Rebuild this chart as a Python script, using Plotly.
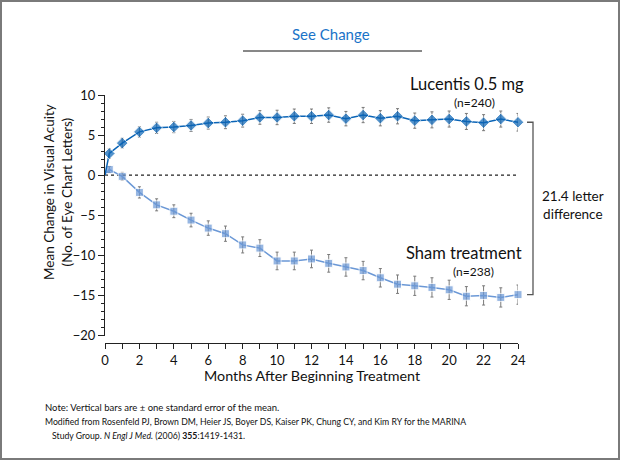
import plotly.graph_objects as go

months = [0, 0.25, 1, 2, 3, 4, 5, 6, 7, 8, 9, 10, 11, 12, 13, 14, 15, 16, 17, 18, 19, 20, 21, 22, 23, 24]
lucentis = [0, 2.7, 4.0, 5.4, 5.9, 6.0, 6.2, 6.5, 6.6, 6.8, 7.2, 7.2, 7.35, 7.35, 7.5, 7.05, 7.5, 7.1, 7.35, 6.8, 6.9, 7.0, 6.7, 6.55, 7.0, 6.6]
lucentis_se = [0, 0.6, 0.6, 0.65, 0.7, 0.7, 0.75, 0.75, 0.8, 0.8, 0.85, 0.9, 0.9, 0.9, 0.9, 0.9, 0.95, 0.95, 0.95, 0.95, 1.0, 1.0, 1.0, 1.0, 1.0, 1.1]
sham = [0, 0.7, -0.15, -2.15, -3.7, -4.5, -5.6, -6.6, -7.3, -8.7, -9.1, -10.7, -10.7, -10.45, -11.0, -11.45, -11.9, -12.8, -13.6, -13.8, -14.0, -14.3, -15.1, -15.0, -15.25, -14.9]
sham_se = [0, 0.4, 0.5, 0.7, 0.75, 0.8, 0.85, 0.9, 0.95, 1.0, 1.05, 1.1, 1.1, 1.1, 1.1, 1.15, 1.15, 1.15, 1.15, 1.2, 1.2, 1.2, 1.2, 1.2, 1.2, 1.2]

x_tickvals = list(range(0, 25))
x_ticktext = [str(v) if v % 2 == 0 else "" for v in x_tickvals]

FONT = "Lato"
DARK = "#0a64b6"
LIGHT = "#6b98d6"
ERR = "#7a7a7a"

W, H = 620, 460
L, R, T, B = 105, 102, 95, 117
PW, PH = W - L - R, H - T - B


def px(xp):
    return (xp - L) / PW


def py(yp):
    return (H - B - yp) / PH


fig = go.Figure()

msize_l = [0] + [9] * (len(months) - 1)
msize_s = [0] + [8] * (len(months) - 1)

fig.add_trace(go.Scatter(
    x=months, y=sham, mode="lines+markers",
    line=dict(color=LIGHT, width=1.5),
    marker=dict(symbol="square", size=msize_s, color=LIGHT),
    error_y=dict(type="data", array=sham_se, color=ERR, thickness=1, width=1.5),
    cliponaxis=False, showlegend=False,
))
fig.add_trace(go.Scatter(
    x=months, y=lucentis, mode="lines+markers",
    line=dict(color=DARK, width=1.5),
    marker=dict(symbol="diamond", size=msize_l, color=DARK),
    error_y=dict(type="data", array=lucentis_se, color=ERR, thickness=1, width=1.5),
    cliponaxis=False, showlegend=False,
))

# zero reference line
fig.add_shape(type="line", xref="x", yref="y", x0=0, x1=24, y0=0, y1=0,
              line=dict(color="#222", width=1.2, dash="3px,3px"), layer="below")

# bracket for difference (x in paper, y in data)
bx = px(533)
bt = px(527)
fig.add_shape(type="path", xref="paper", yref="y",
              path=f"M {bt},{lucentis[-1]} L {bx},{lucentis[-1]} L {bx},{sham[-1]} L {bt},{sham[-1]}",
              line=dict(color="#555", width=1.3))

# header underline
fig.add_shape(type="line", xref="paper", yref="paper", x0=px(243), x1=px(422),
              y0=py(51), y1=py(51), line=dict(color="#111", width=1))

# outer border
fig.add_shape(type="rect", xref="paper", yref="paper", x0=px(1), x1=px(619),
              y0=py(459), y1=py(1), line=dict(color="#7a7a7a", width=2))

ann = []
ann.append(dict(x=px(331), y=py(34), text="See Change", font=dict(size=15, color="#1a73c8")))
ann.append(dict(x=px(467), y=py(84), text="Lucentis 0.5 mg", font=dict(size=16.5, color="#111")))
ann.append(dict(x=px(474), y=py(102), text="(n=240)", font=dict(size=12, color="#111")))
ann.append(dict(x=px(464), y=py(253), text="Sham treatment", font=dict(size=16.5, color="#111")))
ann.append(dict(x=px(473), y=py(271), text="(n=238)", font=dict(size=12, color="#111")))
ann.append(dict(x=px(573), y=py(205), text="21.4 letter<br>difference", font=dict(size=13.5, color="#111")))
ann.append(dict(x=px(58), y=py(192), text="Mean Change in Visual Acuity<br>(No. of Eye Chart Letters)",
                textangle=-90, font=dict(size=13.5, color="#111")))
ann.append(dict(x=px(312), y=py(375), text="Months After Beginning Treatment", font=dict(size=14.3, color="#111")))
ann.append(dict(x=px(44), y=py(407), xanchor="left",
                text="Note: Vertical bars are \u00b1 one standard error of the mean.",
                font=dict(size=9.5, color="#111")))
ann.append(dict(x=px(44), y=py(421), xanchor="left",
                text="Modified from Rosenfeld PJ, Brown DM, Heier JS, Boyer DS, Kaiser PK, Chung CY, and Kim RY for the MARINA",
                font=dict(size=8.7, color="#111")))
ann.append(dict(x=px(51), y=py(435), xanchor="left",
                text="Study Group. <i>N Engl J Med.</i> (2006) <b>355</b>:1419-1431.",
                font=dict(size=8.7, color="#111")))
for a in ann:
    a.setdefault("xanchor", "center")
    a.update(xref="paper", yref="paper", yanchor="middle", showarrow=False, borderpad=0)

fig.update_layout(
    width=W, height=H,
    margin=dict(l=L, r=R, t=T, b=B),
    paper_bgcolor="white", plot_bgcolor="white",
    font=dict(family=FONT, color="#111"),
    annotations=ann,
    xaxis=dict(range=[0, 24], tickvals=x_tickvals, ticktext=x_ticktext,
               showgrid=False, zeroline=False, showline=True, linecolor="#222", linewidth=1.2,
               ticks="outside", ticklen=5, tickcolor="#222", tickwidth=1.2,
               tickfont=dict(size=13, color="#111"),
               anchor="free", position=0),
    yaxis=dict(range=[-20, 10], domain=[7.5 / PH, 1], tickvals=[-20, -15, -10, -5, 0, 5, 10],
               ticktext=["\u221220", "\u221215", "\u221210", "\u22125", "0", "5", "10"],
               showgrid=False, zeroline=False, showline=True, linecolor="#222", linewidth=1.2,
               ticks="outside", ticklen=6, tickcolor="#222", tickwidth=1.2,
               minor=dict(dtick=1, ticks="outside", ticklen=3, tickcolor="#222", tickwidth=1),
               tickfont=dict(size=13, color="#111")),
)

fig.write_html("out.html", config={"displayModeBar": False},
               post_script="document.body.style.margin='0';document.body.style.padding='0';")
